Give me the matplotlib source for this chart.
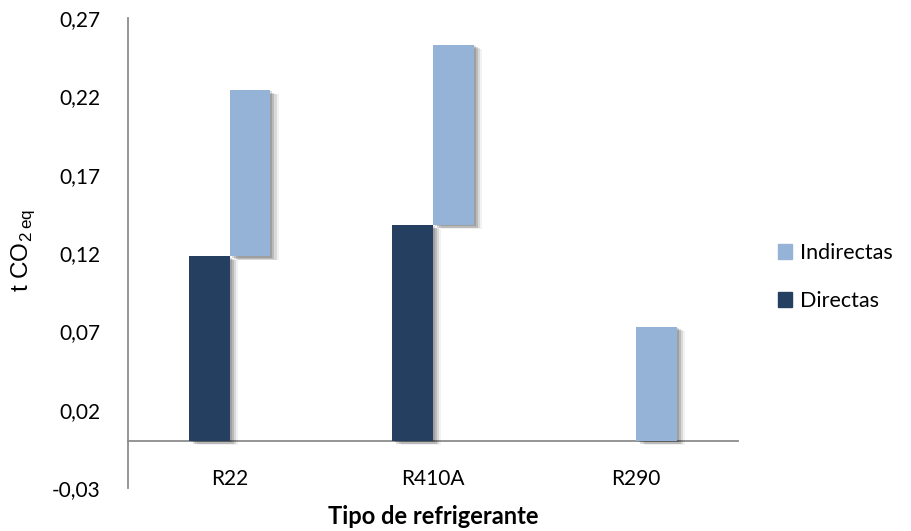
import numpy as np
import matplotlib
matplotlib.use('Agg')
import matplotlib.pyplot as plt
import matplotlib.patheffects as pe
from matplotlib.patches import Patch

# Datos
categorias = ['R22', 'R410A', 'R290']
directas = [0.118, 0.138, 0.0]
indirectas = [0.106, 0.115, 0.073]
y_ticks = [-0.03, 0.02, 0.07, 0.12, 0.17, 0.22, 0.27]

col_dir = '#243F60'
col_ind = '#95B3D7'
gris = '#8C8C8C'

plt.rcParams['font.family'] = ['Lato', 'DejaVu Sans']
plt.rcParams['mathtext.fontset'] = 'custom'
plt.rcParams['mathtext.rm'] = 'Liberation Sans'

fig = plt.figure(figsize=(9.11, 5.31), dpi=100)
ax = fig.add_axes([0.1405, 0.081, 0.6695, 0.885])

# sombra suave tipo Excel
sombra = [pe.SimplePatchShadow(offset=(1.5, -1), shadow_rgbFace='#000000', alpha=0.14),
          pe.SimplePatchShadow(offset=(3, -2), shadow_rgbFace='#000000', alpha=0.14),
          pe.SimplePatchShadow(offset=(4.5, -2.5), shadow_rgbFace='#000000', alpha=0.1),
          pe.SimplePatchShadow(offset=(6, -3), shadow_rgbFace='#000000', alpha=0.05),
          pe.Normal()]

x = np.arange(len(categorias))
w = 0.2
b1 = ax.bar(x - w / 2, directas, w, color=col_dir, linewidth=0, zorder=3)
b2 = ax.bar(x + w / 2, indirectas, w, bottom=directas, color=col_ind, linewidth=0, zorder=3)
for p in list(b1) + list(b2):
    if p.get_height() > 0:
        p.set_path_effects(sombra)

for s in ['top', 'right']:
    ax.spines[s].set_visible(False)
ax.spines['left'].set_color(gris)
ax.spines['left'].set_linewidth(1.3)
ax.spines['bottom'].set_position(('data', 0))
ax.spines['bottom'].set_color(gris)
ax.spines['bottom'].set_linewidth(1.3)

ax.set_xlim(-0.5, 2.5)
ax.set_ylim(-0.03, 0.27)
ax.set_yticks(y_ticks)
ax.set_yticklabels([f'{v:.2f}'.replace('.', ',') for v in y_ticks], fontsize=15)
ax.set_xticks(x)
ax.set_xticklabels(categorias, fontsize=15)
ax.tick_params(axis='both', length=0)
ax.tick_params(axis='y', pad=20)
ax.tick_params(axis='x', pad=20)

ax.set_xlabel('Tipo de refrigerante', fontsize=17, fontweight='bold', labelpad=12)
ax.set_ylabel(r't CO$_2$$_{\mathregular{\,eq}}$', fontsize=17.5, family='Liberation Sans')
ax.yaxis.set_label_coords(-0.15, 0.505)

handles = [Patch(color=col_ind), Patch(color=col_dir)]
ax.legend(handles, ['Indirectas', 'Directas'], loc='center left',
          bbox_to_anchor=(0.845, 0.478), bbox_transform=fig.transFigure,
          frameon=False, fontsize=15.5, handlelength=0.65, handleheight=0.65,
          handletextpad=0.35, labelspacing=1.3, borderaxespad=0)

fig.savefig('out.png', dpi=100)
